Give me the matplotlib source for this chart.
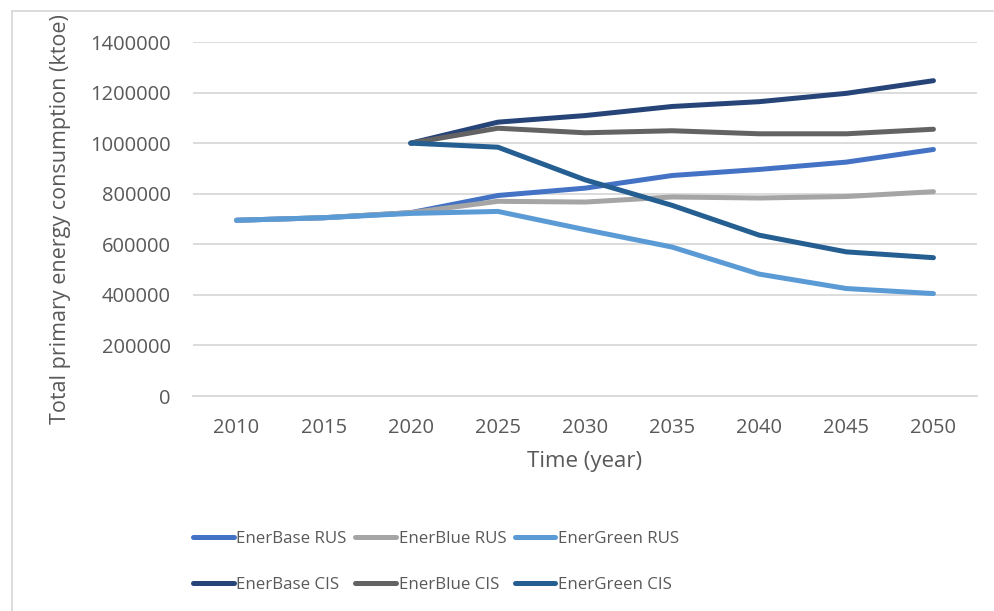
import matplotlib
matplotlib.use("Agg")
import matplotlib.pyplot as plt
from matplotlib.lines import Line2D

plt.rcParams['font.family'] = ['Open Sans', 'DejaVu Sans']

years = ["2010", "2015", "2020", "2025", "2030", "2035", "2040", "2045", "2050"]

enerbase_rus = [695000, 705000, 725000, 793000, 822000, 872000, 896000, 925000, 975000]
enerblue_rus = [695000, 705000, 725000, 770000, 767000, 787000, 783000, 789000, 808000]
energreen_rus = [695000, 705000, 722000, 730000, 658000, 589000, 482000, 425000, 405000]
enerbase_cis = [None, None, 1000000, 1083000, 1109000, 1145000, 1164000, 1197000, 1247000]
enerblue_cis = [None, None, 1000000, 1059000, 1041000, 1049000, 1037000, 1037000, 1055000]
energreen_cis = [None, None, 1000000, 984000, 855000, 754000, 636000, 570000, 547000]

series = [
    ("EnerBase RUS", enerbase_rus, "#4472C4"),
    ("EnerBlue RUS", enerblue_rus, "#A5A5A5"),
    ("EnerGreen RUS", energreen_rus, "#5B9BD5"),
    ("EnerBase CIS", enerbase_cis, "#264478"),
    ("EnerBlue CIS", enerblue_cis, "#636363"),
    ("EnerGreen CIS", energreen_cis, "#255E91"),
]

yticks = [0, 200000, 400000, 600000, 800000, 1000000, 1200000, 1400000]

text_color = "#595959"
grid_color = "#D9D9D9"

fig = plt.figure(figsize=(9.94, 6.11), dpi=100)
ax = fig.add_axes([193 / 994, 215 / 611, 784 / 994, 354 / 611])

x = list(range(len(years)))
handles = []
for name, vals, color in series:
    pts = [(i, v) for i, v in zip(x, vals) if v is not None]
    line, = ax.plot([p[0] for p in pts], [p[1] for p in pts], color=color, lw=3.6,
                    solid_capstyle="round", solid_joinstyle="round", label=name)
    handles.append(line)

ax.set_xlim(-0.5, len(years) - 0.5)
ax.set_ylim(0, 1400000)
ax.set_yticks(yticks)
ax.set_yticklabels([str(v) for v in yticks])
ax.set_xticks(x)
ax.set_xticklabels(years)
ax.yaxis.grid(True, color=grid_color, lw=1.3)
ax.set_axisbelow(True)
for s in ["top", "right", "left"]:
    ax.spines[s].set_visible(False)
ax.spines["bottom"].set_color(grid_color)
ax.spines["bottom"].set_linewidth(1.3)
ax.tick_params(axis="both", length=0, labelsize=14.5, colors=text_color)
ax.tick_params(axis="y", pad=16)
ax.tick_params(axis="x", pad=16)

ax.set_xlabel("Time (year)", fontsize=16, color=text_color, labelpad=9)
ax.set_ylabel("Total primary energy consumption (ktoe)", fontsize=15.5,
              color=text_color, labelpad=14)

# legend filled row by row: RUS scenarios on the first row, CIS on the second
order = [0, 3, 1, 4, 2, 5]
leg = fig.legend([handles[i] for i in order], [series[i][0] for i in order],
                 loc="upper left", bbox_to_anchor=(178 / 994, 1 - 516 / 611),
                 ncol=3, frameon=False, fontsize=12.2, handlelength=2.4,
                 handletextpad=0.15, columnspacing=0.5, labelspacing=1.75,
                 labelcolor=text_color)
for h in leg.get_lines():
    h.set_linewidth(3.6)
    h.set_solid_capstyle("round")

# chart frame
fig.add_artist(Line2D([12 / 994, 12 / 994], [0, 1 - 11 / 611], transform=fig.transFigure,
                      color="#D9D9D9", lw=1.3))
fig.add_artist(Line2D([12 / 994, 1], [1 - 11 / 611, 1 - 11 / 611], transform=fig.transFigure,
                      color="#D9D9D9", lw=1.3))

fig.savefig("out.png", dpi=100)
